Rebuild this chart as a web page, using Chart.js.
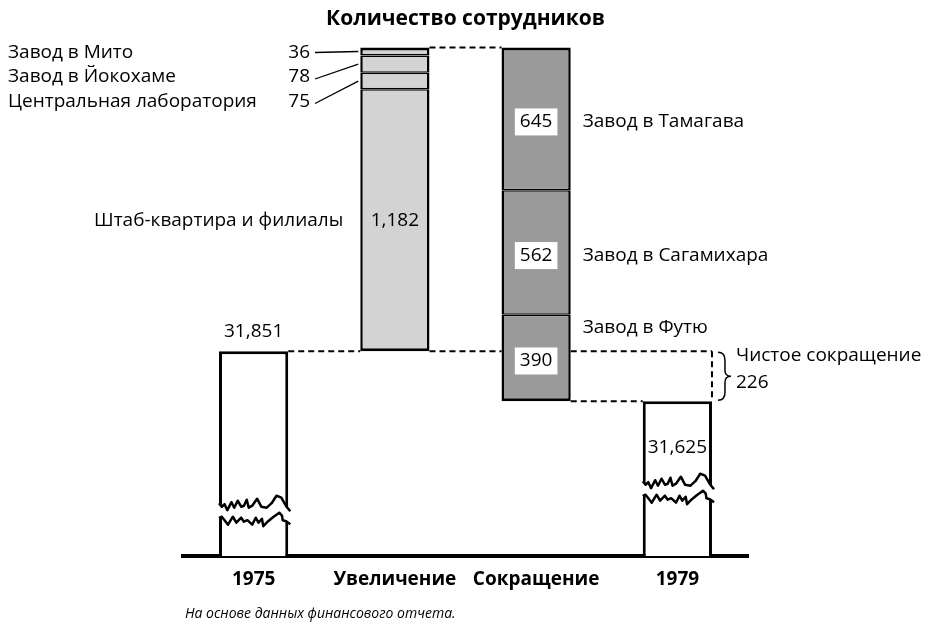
<!DOCTYPE html>
<html>
<head>
<meta charset="utf-8">
<script src="https://cdn.jsdelivr.net/npm/chart.js@4.4.1/dist/chart.umd.min.js"></script>
<style>
  body { margin: 0; background: #fff; }
  #wrap { width: 944px; height: 622px; }
</style>
</head>
<body>
<div id="wrap"><canvas id="staffChart" width="944" height="622"></canvas></div>
<script>
// ----- data ----- //
var categories = ['1975', 'Увеличение', 'Сокращение', '1979'];
var staff1975 = 31851;
var staff1979 = 31625;
// increase, listed bottom-up
var increaseNames = ['Штаб-квартира и филиалы', 'Центральная лаборатория', 'Завод в Йокохаме', 'Завод в Мито'];
var increaseValues = [1182, 75, 78, 36];
// decrease, listed top-down
var decreaseNames = ['Завод в Тамагава', 'Завод в Сагамихара', 'Завод в Футю'];
var decreaseValues = [645, 562, 390];
// value axis window (bars of the two years are cut)
var axisMin = 30925;
var axisMax = 33255;

var FONT = "'Open Sans', 'Noto Sans', sans-serif";
var LIGHT = '#d3d3d3';
var DARK = '#9a9a9a';

function fmt(v) { return v.toLocaleString('en-US'); }

// ----- datasets ----- //
var datasets = [];
var border = function(t, b) { return { top: t, bottom: b, left: 2.5, right: 2.5 }; };

datasets.push({
  label: '1975',
  data: [[axisMin, staff1975], null, null, null],
  backgroundColor: '#fff',
  borderWidth: { top: 3, bottom: 0, left: 3, right: 3 }
});

var lo = staff1975;
increaseValues.forEach(function(v, i) {
  datasets.push({
    label: increaseNames[i],
    data: [null, [lo, lo + v], null, null],
    backgroundColor: LIGHT,
    borderWidth: border(i === increaseValues.length - 1 ? 3 : 1.5, i === 0 ? 3 : 1.5)
  });
  lo += v;
});
var peak = lo;

var hi = peak;
decreaseValues.forEach(function(v, i) {
  datasets.push({
    label: decreaseNames[i],
    data: [null, null, [hi - v, hi], null],
    backgroundColor: DARK,
    borderWidth: border(i === 0 ? 3 : 1.5, i === decreaseValues.length - 1 ? 3 : 1.5)
  });
  hi -= v;
});

datasets.push({
  label: '1979',
  data: [null, null, null, [axisMin, staff1979]],
  backgroundColor: '#fff',
  borderWidth: { top: 3, bottom: 0, left: 3, right: 3 }
});

datasets.forEach(function(d) {
  d.borderColor = '#000';
  d.borderSkipped = false;
  d.inflateAmount = 0;
  d.barPercentage = 0.49;
  d.categoryPercentage = 1;
});

// ----- annotations: labels, connectors, breaks ----- //
function bar(chart, dsIndex, idx) {
  var el = chart.getDatasetMeta(dsIndex).data[idx];
  return { x: el.x, left: el.x - el.width / 2, right: el.x + el.width / 2, top: el.y, bottom: el.base };
}

function dashed(ctx, x1, y1, x2, y2) {
  ctx.save();
  ctx.setLineDash([6, 4]);
  ctx.lineWidth = 2;
  ctx.strokeStyle = '#000';
  ctx.beginPath();
  ctx.moveTo(x1, y1);
  ctx.lineTo(x2, y2);
  ctx.stroke();
  ctx.restore();
}

function text(ctx, s, x, y, align, font) {
  ctx.font = font || ('19px ' + FONT);
  ctx.textAlign = align || 'center';
  ctx.textBaseline = 'middle';
  ctx.fillStyle = '#000';
  ctx.fillText(s, x, y);
}

// jagged cut across a bar, offsets in px from the cut line
var cutTop = [[0,0],[0.04,3.5],[0.08,1],[0.12,7],[0.18,-1],[0.22,4.5],[0.27,-2.5],[0.32,3.5],[0.36,2.5],[0.4,-3.5],[0.43,4.5],[0.48,2.5],[0.52,-1.5],[0.55,-4.5],[0.61,3.5],[0.69,4.5],[0.76,0],[0.83,-7.5],[0.9,-5.5],[0.97,3],[1.03,8]];
var cutBottom = [[0,15],[0.04,13.5],[0.08,17],[0.13,21.5],[0.2,13.5],[0.25,19.5],[0.32,14.5],[0.36,18.5],[0.41,17],[0.48,21.5],[0.53,14.5],[0.57,19.5],[0.62,15.5],[0.64,23],[0.71,18],[0.78,14],[0.87,9.5],[0.91,12.5],[0.92,17],[0.97,18],[1.03,21]];

function drawBreak(ctx, b, lift) {
  var w = b.right - b.left;
  var y0 = b.bottom - lift;
  var px = function(p) { return [b.left + p[0] * w, y0 + p[1]]; };
  ctx.save();
  ctx.fillStyle = '#fff';
  ctx.beginPath();
  ctx.moveTo(b.left - 2, y0 + cutTop[0][1]);
  cutTop.forEach(function(p) { var q = px(p); ctx.lineTo(q[0], q[1]); });
  ctx.lineTo(b.right + 3, y0 + cutTop[cutTop.length - 1][1]);
  ctx.lineTo(b.right + 3, y0 + cutBottom[cutBottom.length - 1][1]);
  cutBottom.slice().reverse().forEach(function(p) { var q = px(p); ctx.lineTo(q[0], q[1]); });
  ctx.lineTo(b.left - 2, y0 + cutBottom[0][1]);
  ctx.closePath();
  ctx.fill();
  ctx.lineWidth = 2.5;
  ctx.lineJoin = 'round';
  ctx.strokeStyle = '#000';
  [cutTop, cutBottom].forEach(function(line) {
    ctx.beginPath();
    line.forEach(function(p, i) { var q = px(p); if (i) ctx.lineTo(q[0], q[1]); else ctx.moveTo(q[0], q[1]); });
    ctx.stroke();
  });
  ctx.restore();
}

var annotations = {
  id: 'annotations',
  afterDatasetsDraw: function(chart) {
    var ctx = chart.ctx;
    var y = chart.scales.y;
    var nInc = increaseValues.length;
    var first = bar(chart, 0, 0);
    var inc = bar(chart, 1, 1);
    var dec = bar(chart, 1 + nInc, 2);
    var last = bar(chart, datasets.length - 1, 3);
    var yStart = y.getPixelForValue(staff1975);
    var yEnd = y.getPixelForValue(staff1979);
    var yPeak = y.getPixelForValue(peak);

    // connectors
    dashed(ctx, first.right, yStart, inc.left, yStart);
    dashed(ctx, inc.right, yStart, dec.left, yStart);
    dashed(ctx, dec.right, yStart, last.right, yStart);
    dashed(ctx, last.right, yStart, last.right, yEnd);
    dashed(ctx, inc.right, yPeak, dec.left, yPeak);
    dashed(ctx, dec.right, yEnd, last.left, yEnd);

    // cut marks on the year bars
    drawBreak(ctx, first, 53);
    drawBreak(ctx, last, 75);

    // year totals
    text(ctx, fmt(staff1975), first.x, yStart - 20);
    text(ctx, fmt(staff1979), last.x, yEnd + 46);

    // increase: large segment labelled in place, small ones on the left
    var hq = bar(chart, 1, 1);
    var hqMid = (hq.top + hq.bottom) / 2;
    text(ctx, fmt(increaseValues[0]), hq.x, hqMid);
    text(ctx, increaseNames[0], inc.left - 17, hqMid, 'right');

    var topIdx = nInc;
    var rowY = (bar(chart, topIdx, 1).top + bar(chart, topIdx, 1).bottom) / 2 + 1;
    for (var i = nInc - 1, row = 0; i >= 1; i--, row++) {
      var seg = bar(chart, 1 + i, 1);
      var ry = rowY + row * 24.5;
      text(ctx, increaseNames[i], 8, ry, 'left');
      text(ctx, String(increaseValues[i]), 310, ry, 'right');
      ctx.save();
      ctx.lineWidth = 1.3;
      ctx.strokeStyle = '#000';
      ctx.beginPath();
      ctx.moveTo(315, ry + (row ? 2 : 0));
      ctx.lineTo(inc.left - 2, (seg.top + seg.bottom) / 2);
      ctx.stroke();
      ctx.restore();
    }

    // decrease: boxed values and names to the right
    ctx.font = '19px ' + FONT;
    decreaseValues.forEach(function(v, i) {
      var seg = bar(chart, 1 + nInc + i, 2);
      var mid = (seg.top + seg.bottom) / 2 + 3;
      var s = String(v);
      var tw = ctx.measureText(s).width;
      ctx.fillStyle = '#fff';
      ctx.fillRect(seg.x - tw / 2 - 5, mid - 13.5, tw + 10, 27);
      text(ctx, s, seg.x, mid);
      var ny = i === decreaseValues.length - 1 ? seg.top + 13 : mid;
      text(ctx, decreaseNames[i], seg.right + 12, ny, 'left');
    });

    // net change brace
    var bx = last.right + 6;
    var bm = (yStart + yEnd) / 2;
    ctx.save();
    ctx.lineWidth = 1.5;
    ctx.strokeStyle = '#000';
    ctx.beginPath();
    ctx.moveTo(bx, yStart + 1);
    ctx.quadraticCurveTo(bx + 7, yStart + 1, bx + 7, yStart + 9);
    ctx.lineTo(bx + 7, bm - 6);
    ctx.quadraticCurveTo(bx + 7, bm, bx + 13, bm);
    ctx.quadraticCurveTo(bx + 7, bm, bx + 7, bm + 6);
    ctx.lineTo(bx + 7, yEnd - 9);
    ctx.quadraticCurveTo(bx + 7, yEnd - 1, bx, yEnd - 1);
    ctx.stroke();
    ctx.restore();
    text(ctx, 'Чистое сокращение', bx + 18, yStart + 4, 'left');
    text(ctx, String(staff1975 - staff1979), bx + 18, yStart + 31, 'left');

    // source note
    text(ctx, 'На основе данных финансового отчета.', 185, 614, 'left', 'italic 14px ' + FONT);
  }
};

Chart.defaults.font.family = FONT;
Chart.defaults.color = '#000';

var staffChart = new Chart(document.getElementById('staffChart').getContext('2d'), {
  type: 'bar',
  data: { labels: categories, datasets: datasets },
  plugins: [annotations],
  options: {
    responsive: false,
    animation: false,
    events: [],
    layout: { padding: { left: 183, right: 196, top: 0, bottom: 19 } },
    scales: {
      x: {
        stacked: true,
        grid: { display: false, drawTicks: false },
        border: { display: true, color: '#000', width: 4 },
        ticks: { padding: 12, font: { size: 19, weight: 'bold' } }
      },
      y: {
        display: false,
        stacked: false,
        min: axisMin,
        max: axisMax
      }
    },
    plugins: {
      legend: { display: false },
      tooltip: { enabled: false },
      title: {
        display: true,
        text: 'Количество сотрудников',
        font: { size: 21, weight: 'bold' },
        padding: { top: 6, bottom: 9 }
      }
    }
  }
});
</script>
</body>
</html>
